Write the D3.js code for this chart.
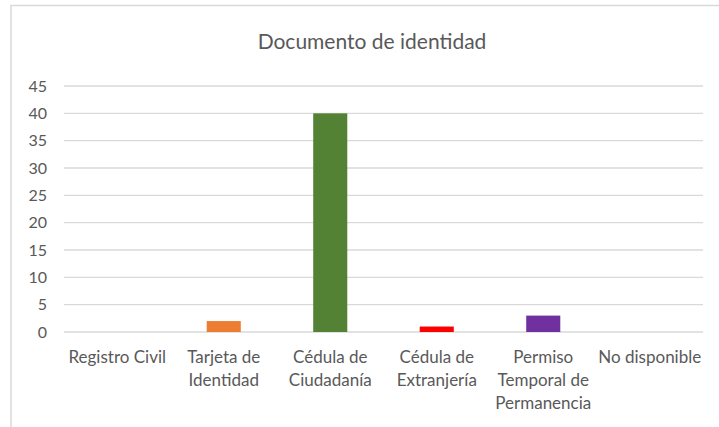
<!DOCTYPE html>
<html>
<head>
<meta charset="utf-8">
<script src="https://cdn.jsdelivr.net/npm/d3@7"></script>
<style>
  body { margin: 0; background: #fff; }
  svg { display: block; font-family: Lato, "Open Sans", sans-serif; }
</style>
</head>
<body>
<div id="chart"></div>
<script>
// Data
const categories = [
  ['Registro Civil'],
  ['Tarjeta de', 'Identidad'],
  ['Cédula de', 'Ciudadanía'],
  ['Cédula de', 'Extranjería'],
  ['Permiso', 'Temporal de', 'Permanencia'],
  ['No disponible']
];
const values = [0, 2, 40, 1, 3, 0];
const colors = ['#4472C4', '#ED7D31', '#548235', '#FF0000', '#7030A0', '#A5A5A5'];
const yTicks = [0, 5, 10, 15, 20, 25, 30, 35, 40, 45];
const title = 'Documento de identidad';

const W = 719, H = 427;
const margin = { top: 86, right: 16, bottom: 95, left: 64 };
const width = W - margin.left - margin.right;
const height = H - margin.top - margin.bottom;

const root = d3.select('#chart').append('svg')
  .attr('width', W)
  .attr('height', H);

// Chart frame (top and left edges visible in the crop)
root.append('path')
  .attr('d', `M11,${H} L11,5.5 L${W},5.5`)
  .attr('fill', 'none')
  .attr('stroke', '#d9d9d9')
  .attr('stroke-width', 1.5);

root.append('text')
  .attr('x', 372)
  .attr('y', 49)
  .attr('text-anchor', 'middle')
  .attr('fill', '#595959')
  .style('font-size', '21px')
  .text(title);

const svg = root.append('g')
  .attr('transform', `translate(${margin.left},${margin.top})`);

const keys = categories.map(c => c.join(' '));

const x = d3.scaleBand()
  .domain(keys)
  .range([0, width])
  .paddingInner(0.68)
  .paddingOuter(0.34);

const y = d3.scaleLinear()
  .domain([0, 45])
  .range([height, 0]);

// Gridlines
svg.append('g')
  .selectAll('line')
  .data(yTicks)
  .enter()
  .append('line')
  .attr('x1', 0)
  .attr('x2', width)
  .attr('y1', d => y(d))
  .attr('y2', d => y(d))
  .attr('stroke', '#d9d9d9')
  .attr('stroke-width', 1.3);

// Y axis labels
const yAxis = svg.append('g')
  .call(d3.axisLeft(y).tickValues(yTicks).tickSize(0).tickPadding(17));
yAxis.select('.domain').remove();
yAxis.selectAll('text')
  .attr('fill', '#595959')
  .style('font-size', '16px')
  .style('font-family', 'Lato, "Open Sans", sans-serif');

// Bars
svg.selectAll('.bar')
  .data(values)
  .enter()
  .append('rect')
  .attr('class', 'bar')
  .attr('x', (d, i) => x(keys[i]))
  .attr('y', d => y(d))
  .attr('width', x.bandwidth())
  .attr('height', d => height - y(d))
  .attr('fill', (d, i) => colors[i]);

// X axis (multi-line category labels)
const xAxis = svg.append('g')
  .attr('transform', `translate(0,${height})`)
  .call(d3.axisBottom(x).tickSize(0).tickFormat(''));
xAxis.select('.domain').remove();
xAxis.selectAll('.tick').each(function(d, i) {
  const t = d3.select(this).append('text')
    .attr('fill', '#595959')
    .attr('text-anchor', 'middle')
    .style('font-size', '17px')
    .style('font-family', 'Lato, "Open Sans", sans-serif');
  categories[i].forEach((line, j) => {
    t.append('tspan')
      .attr('x', 0)
      .attr('y', 31 + j * 23)
      .text(line);
  });
});
</script>
</body>
</html>
